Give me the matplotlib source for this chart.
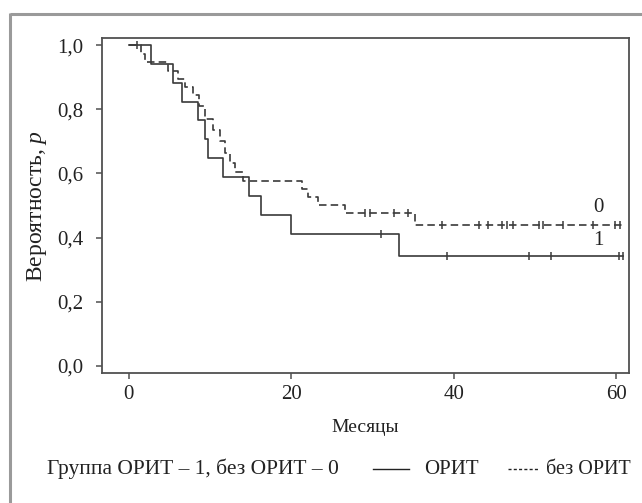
import matplotlib
matplotlib.use("Agg")
import matplotlib.pyplot as plt
from matplotlib.lines import Line2D
from matplotlib.ticker import FuncFormatter

plt.rcParams["font.family"] = ["Liberation Serif", "DejaVu Serif"]
plt.rcParams["mathtext.fontset"] = "custom"
plt.rcParams["mathtext.it"] = "Liberation Serif:italic"

# ---------------------------
# DATA
# ---------------------------
# group 1: ОРИТ (solid)
icu_t = [0, 2.7, 5.4, 6.6, 8.5, 9.4, 9.8, 11.6, 14.8, 16.3, 20.0, 33.2, 60.8]
icu_p = [1.0, 0.941, 0.882, 0.824, 0.765, 0.706, 0.647, 0.588, 0.529, 0.471, 0.412, 0.343, 0.343]
icu_cens_t = [1.0, 31.1, 39.2, 49.3, 52.0, 60.4, 60.8]

# group 0: без ОРИТ (dashed)
noicu_t = [0, 1.5, 2.0, 4.8, 6.1, 6.9, 7.9, 8.6, 9.4, 10.4, 11.2, 11.8, 12.4, 13.1, 14.0,
           21.3, 22.0, 23.3, 26.6, 35.2, 60.8]
noicu_p = [1.0, 0.971, 0.946, 0.92, 0.895, 0.87, 0.845, 0.81, 0.77, 0.735, 0.70, 0.665,
           0.632, 0.605, 0.577, 0.553, 0.527, 0.502, 0.476, 0.439, 0.439]
noicu_cens_t = [29.1, 29.7, 32.6, 34.4, 38.5, 43.1, 44.2, 46.0, 46.6, 47.3,
                50.5, 51.0, 53.4, 57.2, 59.9, 60.5]

y_ticks = [0.0, 0.2, 0.4, 0.6, 0.8, 1.0]
x_ticks = [0, 20, 40, 60]


def surv_at(t_list, p_list, t):
    val = p_list[0]
    for ti, pi in zip(t_list, p_list):
        if ti <= t:
            val = pi
    return val


# ---------------------------
# FIGURE
# ---------------------------
fig = plt.figure(figsize=(6.42, 5.03), dpi=100)
ax = fig.add_axes([0.159, 0.2584, 0.821, 0.666])

line_col = "#3a3a3a"
txt_col = "#222222"
ax.step(icu_t, icu_p, where="post", color=line_col, lw=1.2)
ax.step(noicu_t, noicu_p, where="post", color=line_col, lw=1.2,
        linestyle=(0, (4.5, 2.5)))

ax.plot(icu_cens_t, [surv_at(icu_t, icu_p, t) for t in icu_cens_t],
        linestyle="none", marker="|", ms=5.5, mew=1.1, color=line_col)
ax.plot(noicu_cens_t, [surv_at(noicu_t, noicu_p, t) for t in noicu_cens_t],
        linestyle="none", marker="|", ms=5.5, mew=1.1, color=line_col)

ax.text(57.8, 0.495, "0", ha="center", va="center", fontsize=15, color=txt_col)
ax.text(57.8, 0.39, "1", ha="center", va="center", fontsize=15, color=txt_col)

ax.set_xlim(-3.3, 61.6)
ax.set_ylim(-0.022, 1.022)
ax.set_xticks(x_ticks)
ax.set_yticks(y_ticks)
ax.yaxis.set_major_formatter(FuncFormatter(lambda v, _: f"{v:.1f}".replace(".", ",")))
ax.tick_params(axis="both", direction="out", length=4.5, width=1.1,
               colors="#505050", labelcolor=txt_col, labelsize=15)
ax.tick_params(axis="y", pad=9)
ax.tick_params(axis="x", pad=4)
for sp in ax.spines.values():
    sp.set_color("#505050")
    sp.set_linewidth(1.3)

ax.set_xlabel("Месяцы", fontsize=14, color=txt_col, labelpad=11)
ax.set_ylabel("Вероятность, $p$", fontsize=17, color=txt_col, labelpad=6)

# bottom caption with line samples
cap_y = 1 - 469 / 503
fig.text(47 / 642, cap_y, "Группа ОРИТ – 1, без ОРИТ – 0",
         fontsize=15.5, color=txt_col, va="center", ha="left")
fig.add_artist(Line2D([373 / 642, 409 / 642], [cap_y] * 2,
                      color=txt_col, lw=1.0, transform=fig.transFigure))
fig.text(424 / 642, cap_y, "ОРИТ", fontsize=15, color=txt_col,
         va="center", ha="left")
fig.add_artist(Line2D([508 / 642, 538 / 642], [cap_y] * 2,
                      color=txt_col, lw=1.0, linestyle=(0, (2.2, 1.6)),
                      transform=fig.transFigure))
fig.text(546 / 642, cap_y, "без ОРИТ", fontsize=14.5, color=txt_col,
         va="center", ha="left")

# grey outer frame (top and left edges)
frame_col = "#9a9a9a"
fig.add_artist(Line2D([10.5 / 642, 1.0], [1 - 13.5 / 503] * 2, color=frame_col,
                      lw=2.2, transform=fig.transFigure, solid_capstyle="butt"))
fig.add_artist(Line2D([10.5 / 642] * 2, [0.0, 1 - 12.5 / 503], color=frame_col,
                      lw=2.2, transform=fig.transFigure, solid_capstyle="butt"))

fig.savefig("out.png", dpi=100)
